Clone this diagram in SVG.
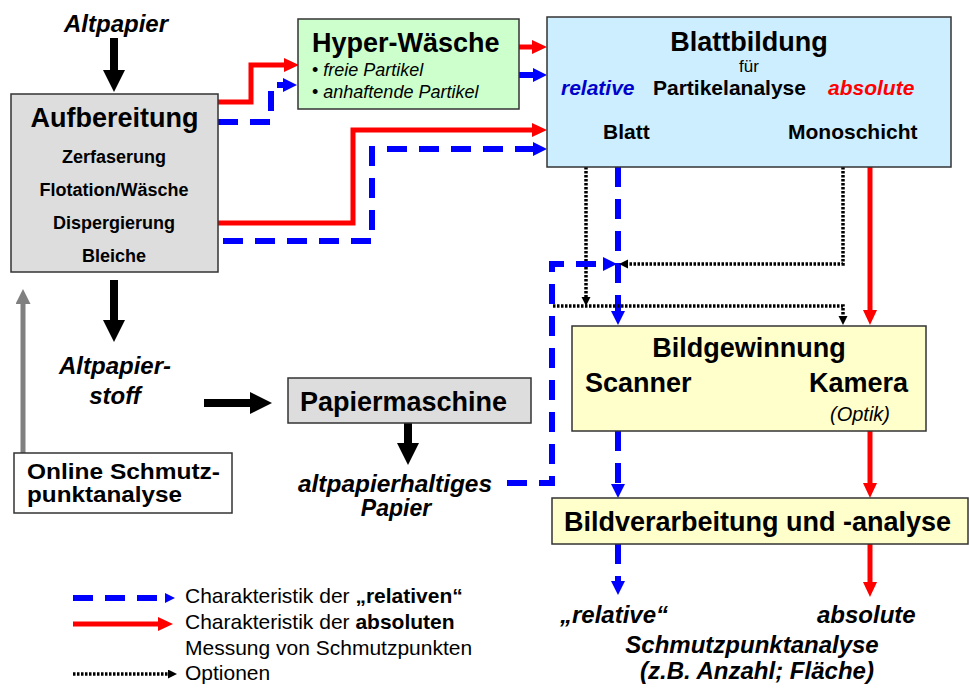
<svg xmlns="http://www.w3.org/2000/svg" width="969" height="688" viewBox="0 0 969 688">
<style>
text{font-family:"Liberation Sans",Arial,sans-serif;fill:#000}
.b{font-weight:bold}
.i{font-style:italic}
.t27{font-size:27px;font-weight:bold}
.box{stroke:#333;stroke-width:1.5}
.red{fill:none;stroke:#ff0000;stroke-width:5}
.blue{fill:none;stroke:#0000ff;stroke-width:6;stroke-dasharray:20 12}
.dot{fill:none;stroke:#000;stroke-width:3.5;stroke-dasharray:2.5 1.5}
.blk{fill:none;stroke:#000;stroke-width:8}
</style>
<defs>
<marker id="hr" markerUnits="userSpaceOnUse" markerWidth="20" markerHeight="20" refX="0" refY="7" orient="auto"><path d="M0,0 L15,7 L0,14 Z" fill="#ff0000"/></marker>
<marker id="hb" markerUnits="userSpaceOnUse" markerWidth="20" markerHeight="20" refX="0" refY="7" orient="auto"><path d="M0,0 L14,7 L0,14 Z" fill="#0000ff"/></marker>
<marker id="hbs" markerUnits="userSpaceOnUse" markerWidth="20" markerHeight="20" refX="0" refY="5" orient="auto"><path d="M0,0 L10,5 L0,10 Z" fill="#0000ff"/></marker>
<marker id="hd" markerUnits="userSpaceOnUse" markerWidth="20" markerHeight="20" refX="0" refY="4.5" orient="auto"><path d="M0,0 L9,4.5 L0,9 Z" fill="#000"/></marker>
<marker id="hk" markerUnits="userSpaceOnUse" markerWidth="30" markerHeight="30" refX="0" refY="11" orient="auto"><path d="M0,0 L22,11 L0,22 Z" fill="#000"/></marker>
<marker id="hg" markerUnits="userSpaceOnUse" markerWidth="20" markerHeight="20" refX="0" refY="7.5" orient="auto"><path d="M0,0 L15,7.5 L0,15 Z" fill="#808080"/></marker>
</defs>

<g id="connectors">
<path class="blk" d="M114,38 V70" marker-end="url(#hk)"/>
<path class="blk" d="M114,280 V320" marker-end="url(#hk)"/>
<path class="blk" d="M204,403 H250" marker-end="url(#hk)"/>
<path class="blk" d="M408,423 V443" marker-end="url(#hk)"/>
<path d="M23,453 V304" fill="none" stroke="#808080" stroke-width="5" marker-end="url(#hg)"/>
<path class="red" d="M218,102 H251 V65 H284" marker-end="url(#hr)"/>
<path class="blue" d="M218,122 H271 V85 H283" marker-end="url(#hb)"/>
<path class="red" d="M519,47 H532" marker-end="url(#hr)"/>
<path class="blue" d="M519,75 H533" style="stroke-dasharray:none" marker-end="url(#hb)"/>
<path class="red" d="M213,223 H353 V130 H532" marker-end="url(#hr)"/>
<path class="blue" d="M223,241 H372 V149 H533" marker-end="url(#hb)"/>
<path class="blue" d="M618,167 V311" marker-end="url(#hb)"/>
<path class="red" d="M870,167 V310" marker-end="url(#hr)"/>
<path class="dot" d="M586,167 V297" marker-end="url(#hd)"/>
<path class="dot" d="M843,167 V264 H628" marker-end="url(#hd)"/>
<path class="dot" d="M553,306 H843 V316" marker-end="url(#hd)"/>
<path class="blue" d="M507,483 H552 V264 H603" marker-end="url(#hb)"/>
<path class="blue" d="M618,431 V484" marker-end="url(#hb)"/>
<path class="red" d="M870,431 V483" marker-end="url(#hr)"/>
<path class="blue" d="M618,544 V581" marker-end="url(#hb)"/>
<path class="red" d="M870,544 V582" marker-end="url(#hr)"/>
</g>

<g id="altpapier"><text x="116" y="32" text-anchor="middle" class="b i" font-size="24">Altpapier</text></g>

<g id="aufbereitung">
<rect class="box" x="11" y="94" width="207" height="178" fill="#dddddd"/>
<text x="114.5" y="127" text-anchor="middle" class="t27">Aufbereitung</text>
<text x="114" y="163" text-anchor="middle" class="b" font-size="18">Zerfaserung</text>
<text x="114" y="196" text-anchor="middle" class="b" font-size="18">Flotation/Wäsche</text>
<text x="114" y="229" text-anchor="middle" class="b" font-size="18">Dispergierung</text>
<text x="114" y="262" text-anchor="middle" class="b" font-size="18">Bleiche</text>
</g>

<g id="hyperwaesche">
<rect class="box" x="298" y="19" width="221" height="90" fill="#ccffcc"/>
<text x="312" y="52" class="t27">Hyper-Wäsche</text>
<text x="312" y="76" font-size="18">• <tspan class="i">freie Partikel</tspan></text>
<text x="312" y="98" font-size="18">• <tspan class="i">anhaftende Partikel</tspan></text>
</g>

<g id="blattbildung">
<rect class="box" x="547" y="17" width="404" height="150" fill="#cceeff"/>
<text x="749" y="51" text-anchor="middle" class="t27">Blattbildung</text>
<text x="749" y="72" text-anchor="middle" font-size="17">für</text>
<text x="561" y="95" class="b i" font-size="21" style="fill:#0000cc">relative</text>
<text x="653" y="95" class="b" font-size="21">Partikelanalyse</text>
<text x="828" y="95" class="b i" font-size="21" style="fill:#ff0000">absolute</text>
<text x="603" y="139" class="b" font-size="21">Blatt</text>
<text x="788" y="139" class="b" font-size="21">Monoschicht</text>
</g>

<g id="altpapierstoff">
<text x="115" y="374" text-anchor="middle" class="b i" font-size="24">Altpapier-</text>
<text x="115" y="404" text-anchor="middle" class="b i" font-size="24">stoff</text>
</g>

<g id="papiermaschine">
<rect class="box" x="288" y="378" width="243" height="45" fill="#dddddd"/>
<text x="300" y="411" class="t27">Papiermaschine</text>
</g>

<g id="altpapierhaltiges">
<text x="298" y="492" class="b i" font-size="23" textLength="194" lengthAdjust="spacingAndGlyphs">altpapierhaltiges</text>
<text x="396" y="516" text-anchor="middle" class="b i" font-size="23">Papier</text>
</g>

<g id="online">
<rect class="box" x="14" y="453" width="218" height="60" fill="#ffffff"/>
<text x="27" y="479" class="b" font-size="22" textLength="193" lengthAdjust="spacingAndGlyphs">Online Schmutz-</text>
<text x="27" y="502" class="b" font-size="22" textLength="155" lengthAdjust="spacingAndGlyphs">punktanalyse</text>
</g>

<g id="bildgewinnung">
<rect class="box" x="572" y="326" width="354" height="105" fill="#ffffcc"/>
<text x="749" y="357" text-anchor="middle" class="t27">Bildgewinnung</text>
<text x="585" y="392" class="t27">Scanner</text>
<text x="809" y="392" class="t27">Kamera</text>
<text x="830" y="421" class="i" font-size="20">(Optik)</text>
</g>

<g id="bildverarbeitung">
<rect class="box" x="552" y="498" width="416" height="46" fill="#ffffcc"/>
<text x="564" y="531" class="t27">Bildverarbeitung und -analyse</text>
</g>

<g id="ergebnis">
<text x="560" y="623" class="b i" font-size="24">„relative“</text>
<text x="817" y="623" class="b i" font-size="24">absolute</text>
<text x="752" y="653" text-anchor="middle" class="b i" font-size="24">Schmutzpunktanalyse</text>
<text x="757" y="679" text-anchor="middle" class="b i" font-size="24">(z.B. Anzahl; Fläche)</text>
</g>

<g id="legend">
<path class="blue" d="M73,598 H165" marker-end="url(#hbs)"/>
<path class="red" d="M73,624 H158" marker-end="url(#hr)"/>
<path class="dot" d="M73,674 H168" marker-end="url(#hd)"/>
<text x="185" y="603" font-size="21">Charakteristik der <tspan class="b">„relativen“</tspan></text>
<text x="185" y="629" font-size="21">Charakteristik der <tspan class="b">absoluten</tspan></text>
<text x="185" y="655" font-size="21">Messung von Schmutzpunkten</text>
<text x="185" y="680" font-size="21">Optionen</text>
</g>
</svg>
